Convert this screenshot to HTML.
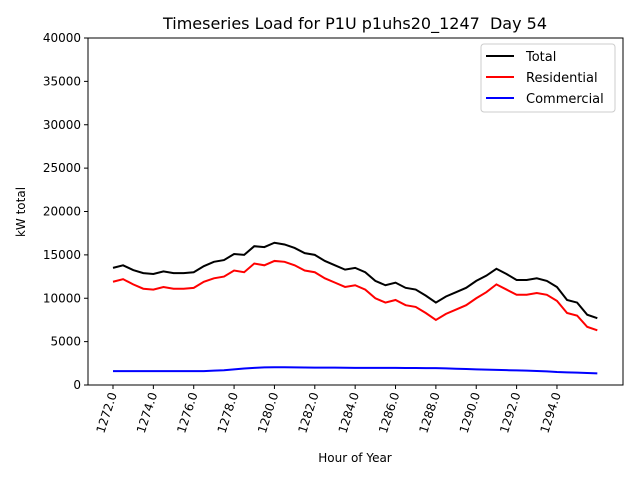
<!DOCTYPE html>
<html><head><meta charset="utf-8"><style>
body{margin:0;background:#fff;font-family:"DejaVu Sans","Liberation Sans",sans-serif}
</style></head><body>
<svg id="c" width="640" height="480" xmlns="http://www.w3.org/2000/svg"></svg>
<script>
const hours=[1272,1272.5,1273,1273.5,1274,1274.5,1275,1275.5,1276,1276.5,1277,1277.5,1278,1278.5,1279,1279.5,1280,1280.5,1281,1281.5,1282,1282.5,1283,1283.5,1284,1284.5,1285,1285.5,1286,1286.5,1287,1287.5,1288,1288.5,1289,1289.5,1290,1290.5,1291,1291.5,1292,1292.5,1293,1293.5,1294,1294.5,1295,1295.5,1296];
const total=[13500,13800,13250,12900,12800,13100,12900,12900,13000,13700,14200,14400,15100,15000,16000,15900,16400,16200,15800,15200,15000,14300,13800,13300,13500,13000,12000,11500,11800,11200,11000,10300,9500,10200,10700,11200,12000,12600,13400,12800,12100,12100,12300,12000,11300,9800,9500,8100,7700];
const residential=[11900,12200,11600,11100,11000,11300,11100,11100,11200,11900,12300,12500,13200,13000,14000,13800,14300,14200,13800,13200,13000,12300,11800,11300,11500,11000,10000,9500,9800,9200,9000,8300,7500,8200,8700,9200,10000,10700,11600,11000,10400,10400,10600,10400,9700,8300,8000,6700,6300];
const commercial=[1600,1600,1600,1600,1600,1600,1600,1600,1600,1600,1650,1700,1800,1900,1980,2030,2050,2040,2030,2020,2010,2000,2000,1990,1980,1970,1970,1970,1970,1960,1960,1950,1950,1920,1880,1840,1800,1770,1740,1710,1680,1650,1620,1570,1500,1460,1420,1380,1340];
const yTicks=[0,5000,10000,15000,20000,25000,30000,35000,40000];
const xTicks=[1272,1274,1276,1278,1280,1282,1284,1286,1288,1290,1292,1294];
const L=88,R=623,T=38,B=385;
const xs=h=>113+(h-1272)*20.18;
const ys=v=>B-(v/40000)*(B-T);
const svg=document.getElementById('c');
const NS='http://www.w3.org/2000/svg';
function mk(tag,attrs,parent){const e=document.createElementNS(NS,tag);for(const k in attrs)e.setAttribute(k,attrs[k]);(parent||svg).appendChild(e);return e;}
let t=mk('text',{x:355,y:29,'text-anchor':'middle','font-size':'16'});t.textContent='Timeseries Load for P1U p1uhs20_1247\u00a0 Day 54';


yTicks.forEach(v=>{const y=ys(v);
 const tk=mk('line',{x1:L-4,x2:L,y1:y,y2:y,stroke:'#000'});
 
 
 const lb=mk('text',{x:L-7,y:y+4,'text-anchor':'end','font-size':'12'});lb.textContent=v;
 
 });
xTicks.forEach(h=>{const x=xs(h);
 const tk=mk('line',{x1:x,x2:x,y1:B,y2:B+4,stroke:'#000'});
 
 
 const lb=mk('text',{transform:`translate(${x+4},${B+9}) rotate(-72)`,'text-anchor':'end','font-size':'12'});lb.textContent=h.toFixed(1);
 
 });
function series(arr,col,name){const p=mk('polyline',{points:arr.map((v,i)=>xs(hours[i])+','+ys(v)).join(' '),fill:'none',stroke:col,'stroke-width':2});
 
 }
series(total,'#000','total-line');series(residential,'#f00','residential-line');series(commercial,'#00f','commercial-line');
const fr=mk('rect',{x:L,y:T,width:R-L,height:B-T,fill:'none',stroke:'#000','stroke-width':1});


let yl=mk('text',{transform:'translate(25,212) rotate(-90)','text-anchor':'middle','font-size':'12'});yl.textContent='kW total';


let xl=mk('text',{x:355,y:462,'text-anchor':'middle','font-size':'12'});xl.textContent='Hour of Year';


const lg=mk('rect',{x:481,y:44,width:134,height:68,fill:'#fff',stroke:'#ccc',rx:3});


[['Total','#000'],['Residential','#f00'],['Commercial','#00f']].forEach((e,i)=>{const y=56+i*21;
 const ln=mk('line',{x1:486,x2:514,y1:y,y2:y,stroke:e[1],'stroke-width':2});
 
 
 const tx=mk('text',{x:526,y:y+5,'font-size':'13'});tx.textContent=e[0];
 
 });
</script>
</body></html>
